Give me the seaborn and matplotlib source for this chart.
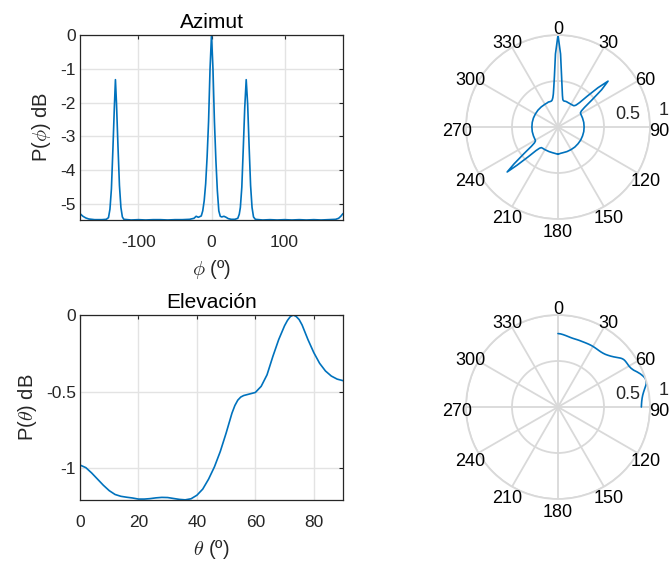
import numpy as np
import pandas as pd
import matplotlib
matplotlib.use("Agg")
import matplotlib.pyplot as plt
import matplotlib.transforms as mtransforms
import seaborn as sns

# ---------------- data ----------------
phi_deg = [-180, -176, -172, -168, -160, -150, -144, -141, -139, -137, -135, -133,
           -131.5, -130, -128, -126, -124, -122, -120, -110, -100, -90, -80, -70,
           -60, -50, -40, -30, -24, -21, -18, -14, -12, -10, -8, -6, -4, -2, 0,
           2, 4, 6, 8, 10, 12, 14, 17, 20, 23, 27, 32, 36, 38, 39.5, 41.5, 43.5,
           45.5, 47.5, 49.5, 51.5, 53.5, 55.5, 57.5, 60, 70, 80, 90, 100, 110,
           120, 130, 140, 150, 160, 170, 174, 177, 180]
p_phi_db = [-5.28, -5.36, -5.41, -5.44, -5.46, -5.46, -5.45, -5.40, -5.15, -4.55,
            -3.40, -2.15, -1.32, -2.05, -3.30, -4.45, -5.10, -5.38, -5.45, -5.47,
            -5.46, -5.47, -5.46, -5.46, -5.47, -5.46, -5.46, -5.45, -5.42, -5.36,
            -5.39, -5.35, -5.20, -4.90, -4.40, -3.60, -2.55, -1.00, 0.00,
            -1.00, -2.55, -3.70, -4.60, -5.20, -5.36, -5.38, -5.36, -5.39, -5.43,
            -5.45, -5.45, -5.42, -5.30, -5.10, -4.50, -3.35, -2.15, -1.32, -2.05,
            -3.30, -4.45, -5.10, -5.38, -5.45, -5.47, -5.46, -5.47, -5.46, -5.47,
            -5.46, -5.47, -5.46, -5.47, -5.46, -5.45, -5.42, -5.36, -5.28]

theta_deg = [0, 2, 4, 6, 8, 10, 12, 14, 16, 18, 20, 22, 24, 26, 28, 30, 32, 34, 36,
             38, 40, 42, 44, 46, 48, 50, 52, 53, 54, 55, 56, 58, 60, 62, 64, 66,
             68, 70, 71, 72, 73, 74, 75, 76, 78, 80, 82, 84, 86, 88, 90]
p_theta_db = [-0.978, -0.995, -1.03, -1.07, -1.11, -1.145, -1.17, -1.182, -1.188,
              -1.193, -1.200, -1.200, -1.197, -1.192, -1.189, -1.190, -1.196,
              -1.202, -1.205, -1.198, -1.175, -1.135, -1.07, -0.99, -0.89, -0.77,
              -0.64, -0.59, -0.555, -0.535, -0.525, -0.515, -0.505, -0.465, -0.39,
              -0.27, -0.16, -0.07, -0.035, -0.01, 0.0, -0.01, -0.03, -0.065,
              -0.16, -0.245, -0.315, -0.365, -0.398, -0.418, -0.428]

polar_ticks = list(range(0, 360, 30))
polar_tick_labels = [str(t) for t in polar_ticks]
radial_ticks = [0.5, 1]
radial_tick_labels = ["0.5", "1"]

# ---------------- style ----------------
sns.set_theme(style="white")
plt.rcParams["font.family"] = ["Liberation Sans", "DejaVu Sans"]
plt.rcParams["mathtext.fontset"] = "cm"

LINE = "#0072BD"
DARK = "#262626"
GRID = "#e3e3e3"
PGRID = "#d9d9d9"
FS = 12.5
FS_LAB = 14.5
FS_TITLE = 15

az = pd.DataFrame({"phi": phi_deg, "p": p_phi_db})
az["rad"] = np.deg2rad(az["phi"])
az["lin"] = 10 ** (az["p"] / 10)
el = pd.DataFrame({"theta": theta_deg, "p": p_theta_db})
el["rad"] = np.deg2rad(el["theta"])
el["lin"] = 10 ** (el["p"] / 10)

W, H = 672, 561
fig = plt.figure(figsize=(W / 100, H / 100), dpi=100)
fig.patch.set_facecolor("white")


def box(l, t, r, b):
    return [l / W, 1 - b / H, (r - l) / W, (b - t) / H]


def cart(ax):
    for s in ax.spines.values():
        s.set_visible(True)
        s.set_color(DARK)
        s.set_linewidth(0.9)
    ax.grid(True, color=GRID, linewidth=1.0)
    ax.set_axisbelow(True)
    ax.tick_params(direction="in", top=True, right=True, length=3, width=0.8,
                   colors=DARK, labelsize=FS)
    ax.tick_params(axis="x", pad=10.5)
    ax.tick_params(axis="y", pad=3)
    ax.set_facecolor("white")


# Azimut cartesian
ax1 = fig.add_axes(box(80, 35, 343, 220))
sns.lineplot(data=az, x="phi", y="p", ax=ax1, color=LINE, linewidth=1.2,
             errorbar=None, estimator=None)
ax1.set_xlim(-180, 180)
ax1.set_ylim(-5.47, 0)
ax1.set_xticks([-100, 0, 100])
ax1.set_yticks([-5, -4, -3, -2, -1, 0])
ax1.set_yticklabels(["-5", "-4", "-3", "-2", "-1", "0"])
ax1.set_xticklabels(["-100", "0", "100"])
cart(ax1)
ax1.set_title("Azimut", fontsize=FS_TITLE, color="black", pad=5)
ax1.set_xlabel(r"$\phi$ (º)", fontsize=FS_LAB, color=DARK, labelpad=6)
ax1.set_ylabel(r"P($\phi$) dB", fontsize=FS_LAB, color=DARK, labelpad=5)

# Elevacion cartesian
ax2 = fig.add_axes(box(80, 315, 343, 500))
sns.lineplot(data=el, x="theta", y="p", ax=ax2, color=LINE, linewidth=1.2,
             errorbar=None, estimator=None)
ax2.set_xlim(0, 90)
ax2.set_ylim(-1.206, 0)
ax2.set_xticks([0, 20, 40, 60, 80])
ax2.set_yticks([-1, -0.5, 0])
ax2.set_yticklabels(["-1", "-0.5", "0"])
cart(ax2)
ax2.set_title("Elevación", fontsize=FS_TITLE, color="black", pad=5)
ax2.set_xlabel(r"$\theta$ (º)", fontsize=FS_LAB, color=DARK, labelpad=6)
ax2.set_ylabel(r"P($\theta$) dB", fontsize=FS_LAB, color=DARK, labelpad=5)


def polar(ax, df):
    ax.set_theta_zero_location("N")
    ax.set_theta_direction(-1)
    sns.lineplot(data=df, x="rad", y="lin", ax=ax, color=LINE, linewidth=1.2,
                 errorbar=None, estimator=None, sort=False)
    ax.set_ylim(0, 1)
    ax.set_xlabel("")
    ax.set_ylabel("")
    ax.set_thetagrids(polar_ticks, [""] * len(polar_ticks))
    ax.set_yticks(radial_ticks)
    ax.set_yticklabels([])
    ax.grid(True, color=PGRID, linewidth=1.3)
    ax.spines["polar"].set_color(PGRID)
    ax.spines["polar"].set_linewidth(1.3)
    ax.tick_params(axis="x", length=0)
    ax.set_facecolor("white")
    shift = ax.transData + mtransforms.ScaledTranslation(0, -4 / 100,
                                                          fig.dpi_scale_trans)
    for t, lab in zip(polar_ticks, polar_tick_labels):
        ax.text(np.deg2rad(t), 1.10, lab, fontsize=13, ha="center", va="center",
                color="black", clip_on=False, transform=shift)
    ax.text(np.deg2rad(77), 0.78, radial_tick_labels[0], fontsize=13,
            ha="center", va="center", transform=shift)
    ax.text(np.deg2rad(79), 1.17, radial_tick_labels[1], fontsize=13,
            ha="center", va="center", clip_on=False, transform=shift)


ax3 = fig.add_axes(box(466, 35, 650, 219), projection="polar")
polar(ax3, az)
ax4 = fig.add_axes(box(466, 315, 650, 499), projection="polar")
polar(ax4, el)

fig.savefig("out.png", dpi=100, facecolor="white")
